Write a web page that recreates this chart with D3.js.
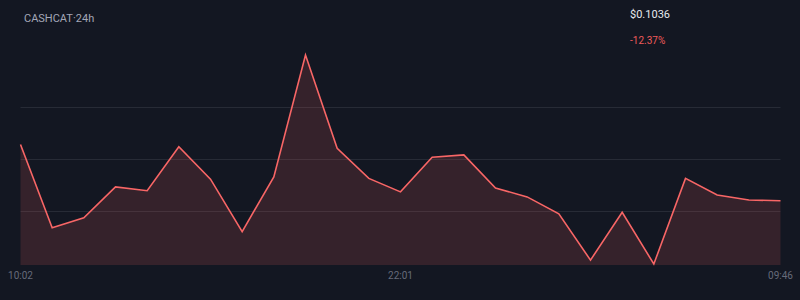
<!DOCTYPE html>
<html lang="en">
<head>
    <meta charset="utf-8">
    <style type="text/css">
        body { margin: 0; background-color: #131722; }
        svg { display: block; background-color: #131722; }
        text { font-family: Roboto, "Noto Sans", sans-serif; }
    </style>
    <script src="https://d3js.org/d3.v7.min.js"></script>
    <title>CASHCAT 24h</title>
</head>
<body>
    <div id="canvas"></div>
    <script type="text/JavaScript">

        // hourly prices over the last 24h
        var prices = [0.1182, 0.0966, 0.0992, 0.1072, 0.1062, 0.1176, 0.1092, 0.0956, 0.1098, 0.1414,
                      0.1172, 0.1094, 0.1059, 0.1149, 0.1155, 0.1069, 0.1046, 0.1002, 0.0882, 0.1006,
                      0.0872, 0.1094, 0.1051, 0.1038, 0.1036];
        // labels shown under the chart (index -> text)
        var tickIndex = [0, 12, 24];
        var tickLabels = ["10:02", "22:01", "09:46"];
        var gridSteps = [0.25, 0.5, 0.75];

        var title = "CASHCAT·24h";
        var priceText = "$0.1036";
        var changeText = "-12.37%";

        var width = 800, height = 300;

        var svg = d3.select("#canvas")
            .append("svg")
            .attr("width", width)
            .attr("height", height);

        var x = d3.scaleLinear()
            .domain([0, prices.length - 1])
            .range([20.5, 780.5]);

        var y = d3.scaleLinear()
            .domain(d3.extent(prices))
            .range([264, 55]);

        var bottom = 265;

        //horizontal grid lines at quarters of the price range
        var ext = d3.extent(prices);
        function gridY(d) { return Math.floor(y(ext[0] + d * (ext[1] - ext[0]))) + 0.5; }
        svg.append("g").selectAll("line")
            .data(gridSteps)
            .enter().append("line")
            .attr("x1", x(0))
            .attr("x2", x(prices.length - 1))
            .attr("y1", gridY)
            .attr("y2", gridY)
            .attr("stroke", "#272b36")
            .attr("stroke-width", 1);

        var area = d3.area()
            .x(function(d, i) { return x(i); })
            .y0(bottom)
            .y1(function(d) { return y(d); });

        var line = d3.line()
            .x(function(d, i) { return x(i); })
            .y(function(d) { return y(d); });

        svg.append("path")
            .datum(prices)
            .attr("d", area)
            .attr("fill", "#f56565")
            .attr("fill-opacity", 0.15);

        svg.append("path")
            .datum(prices)
            .attr("d", line)
            .attr("fill", "none")
            .attr("stroke", "#f86666")
            .attr("stroke-width", 1.6)
            .attr("stroke-linejoin", "miter");

        //time labels
        svg.append("g").selectAll("text")
            .data(tickIndex)
            .enter().append("text")
            .attr("x", function(d) { return x(d); })
            .attr("y", 279)
            .attr("text-anchor", "middle")
            .attr("fill", "#666b7a")
            .style("font-size", "10px")
            .text(function(d, i) { return tickLabels[i]; });

        svg.append("text")
            .attr("x", 24)
            .attr("y", 22)
            .attr("fill", "#a3a7b7")
            .style("font-size", "11px")
            .text(title);

        svg.append("text")
            .attr("x", 630)
            .attr("y", 18)
            .attr("fill", "#e6e8ee")
            .style("font-size", "11px")
            .text(priceText);

        svg.append("text")
            .attr("x", 630)
            .attr("y", 44)
            .attr("fill", "#ef5b5b")
            .style("font-size", "10px")
            .text(changeText);

    </script>
</body>
</html>
